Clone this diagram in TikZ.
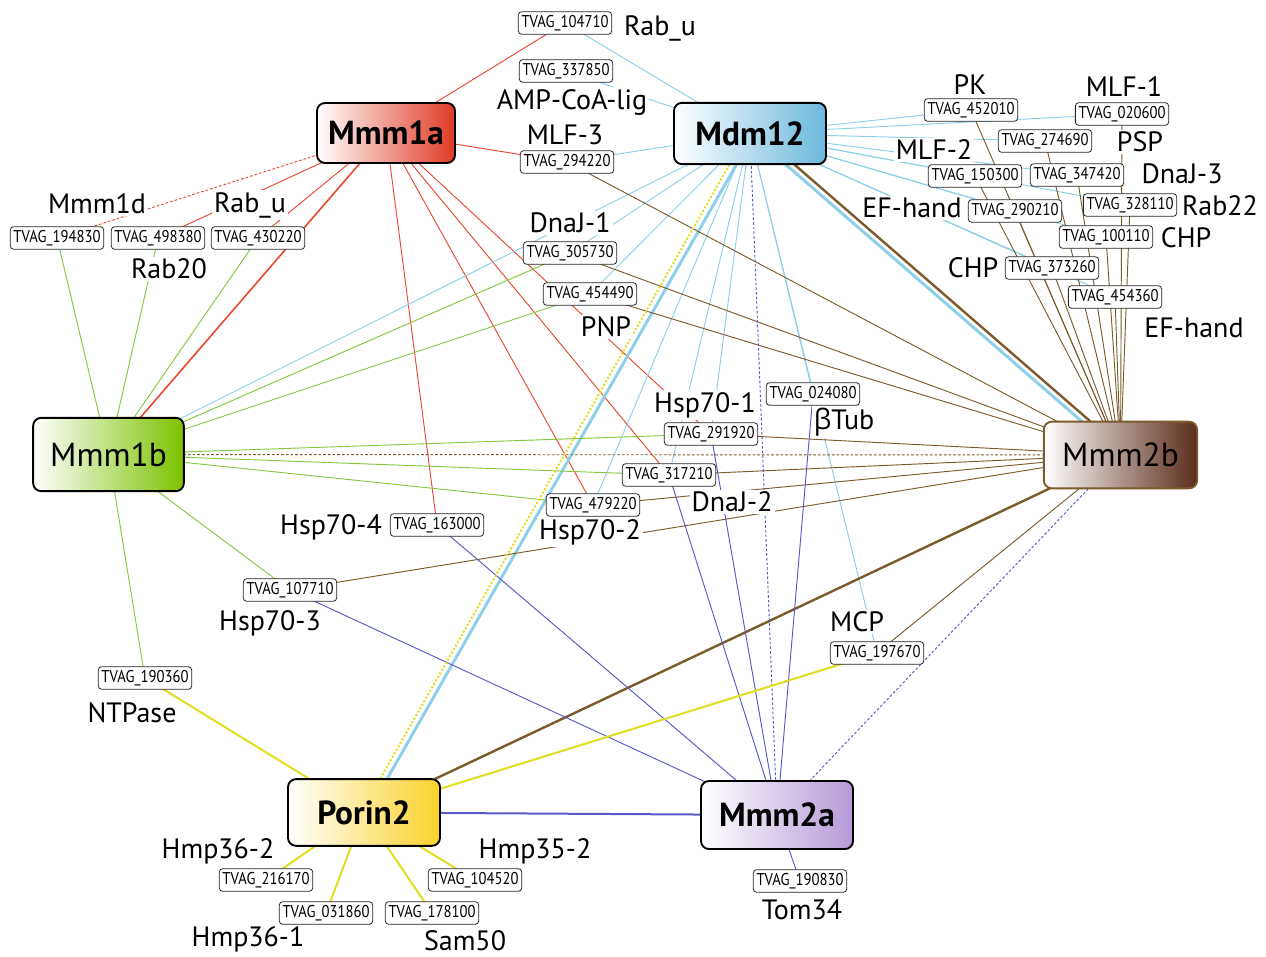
\documentclass[tikz,border=0pt]{standalone}
\usepackage{fontspec}
\setmainfont{PT Sans}
\newfontfamily\grk{Open Sans}
\newfontfamily\tvfont[FakeStretch=0.86]{PT Sans}
\pgfdeclarelayer{bg}
\pgfsetlayers{bg,main}
\definecolor{cR}{RGB}{234,72,46}
\definecolor{cB}{RGB}{142,207,232}
\definecolor{cG}{RGB}{134,198,64}
\definecolor{cN}{RGB}{123,90,44}
\definecolor{cP}{RGB}{88,88,200}
\definecolor{cY}{RGB}{224,222,30}
\definecolor{mR}{RGB}{224,58,36}
\definecolor{mB}{RGB}{107,184,221}
\definecolor{mG}{RGB}{124,194,0}
\definecolor{mN}{RGB}{91,44,26}
\definecolor{mY}{RGB}{250,210,42}
\definecolor{mP}{RGB}{181,154,216}
\tikzset{
  hub/.style={draw=black, line width=1.4pt, rounded corners=6pt, minimum width=114pt,
    minimum height=48pt, inner sep=0pt, font=\fontsize{25}{28}\selectfont\bfseries},
  tvag/.style={draw=black!85, line width=0.6pt, fill=white, rounded corners=2.5pt,
    minimum width=70pt, minimum height=17pt, inner sep=0pt, font=\tvfont\fontsize{12.8}{13}\selectfont},
  lab/.style={fill=white, inner sep=1.5pt, font=\fontsize{21}{23}\selectfont},
  lr/.style={draw=cR, line width=0.7pt},
  lb/.style={draw=cB, line width=0.7pt},
  lg/.style={draw=cG, line width=0.7pt},
  ln/.style={draw=cN, line width=0.7pt},
  lp/.style={draw=cP, line width=0.7pt},
  ly/.style={draw=cY, line width=1.5pt},
  dsh/.style={dash pattern=on 2pt off 1.5pt},
}
\begin{document}
\begin{tikzpicture}[x=0.75pt,y=-0.75pt]
\useasboundingbox (0,0) rectangle (1266,956);
% labels
\node[lab] (LRabuT) at (660,28) {Rab\_u};
\node[lab] (LAMP) at (572,102) {AMP-CoA-lig};
\node[lab] (LMLF3) at (565,135) {MLF-3};
\node[lab] (LPK) at (970,85) {PK};
\node[lab] (LMLF1) at (1124,87) {MLF-1};
\node[lab, minimum width=66pt] (LPSP) at (1140,142) {PSP};
\node[lab] (LMLF2) at (934,150) {MLF-2};
\node[lab] (LDnaJ3) at (1182,174) {DnaJ-3};
\node[lab] (LEF1) at (912,208) {EF-hand};
\node[lab] (LRab22) at (1220,206) {Rab22};
\node[lab] (LCHP1) at (1186,238) {CHP};
\node[lab] (LCHP2) at (973,268) {CHP};
\node[lab] (LEF2) at (1194,328) {EF-hand};
\node[lab] (LMmm1d) at (97,204) {Mmm1d};
\node[lab] (LRabuL) at (250,205) {Rab\_u};
\node[lab] (LRab20) at (169,269) {Rab20};
\node[lab] (LDnaJ1) at (570,223) {DnaJ-1};
\node[lab] (LPNP) at (606,327) {PNP};
\node[lab] (LHsp1) at (705,405) {Hsp70-1};
\node[lab] (LTub) at (844,422) {{\grk β}Tub};
\node[lab] (LDnaJ2) at (732,502) {DnaJ-2};
\node[lab] (LHsp2) at (590,532) {Hsp70-2};
\node[lab] (LHsp4) at (331,527) {Hsp70-4};
\node[lab] (LHsp3) at (270,623) {Hsp70-3};
\node[lab] (LNTP) at (132,713) {NTPase};
\node[lab] (LMCP) at (857,622) {MCP};
\node[lab] (LH362) at (218,851) {Hmp36-2};
\node[lab] (LH361) at (248,939) {Hmp36-1};
\node[lab] (LSam) at (465,941) {Sam50};
\node[lab] (LH352) at (535,851) {Hmp35-2};
\node[lab] (LTom) at (802,910) {Tom34};
% TVAG boxes
\node[tvag] (t104710) at (565,23) {TVAG\_104710};
\node[tvag] (t337850) at (566,71) {TVAG\_337850};
\node[tvag] (t294220) at (567,162) {TVAG\_294220};
\node[tvag] (t452010) at (971,110) {TVAG\_452010};
\node[tvag] (t020600) at (1122,114) {TVAG\_020600};
\node[tvag] (t274690) at (1045,141) {TVAG\_274690};
\node[tvag] (t150300) at (975,176) {TVAG\_150300};
\node[tvag] (t347420) at (1077,175) {TVAG\_347420};
\node[tvag] (t290210) at (1015,211) {TVAG\_290210};
\node[tvag] (t328110) at (1130,205) {TVAG\_328110};
\node[tvag] (t100110) at (1106,237) {TVAG\_100110};
\node[tvag] (t373260) at (1052,268) {TVAG\_373260};
\node[tvag] (t454360) at (1115,297) {TVAG\_454360};
\node[tvag] (t194830) at (57,238) {TVAG\_194830};
\node[tvag] (t498380) at (158,238) {TVAG\_498380};
\node[tvag] (t430220) at (258,238) {TVAG\_430220};
\node[tvag] (t305730) at (570,253) {TVAG\_305730};
\node[tvag] (t454490) at (590,294) {TVAG\_454490};
\node[tvag] (t291920) at (711,434) {TVAG\_291920};
\node[tvag] (t317210) at (669,475) {TVAG\_317210};
\node[tvag] (t479220) at (593,505) {TVAG\_479220};
\node[tvag] (t024080) at (813,394) {TVAG\_024080};
\node[tvag] (t163000) at (437,525) {TVAG\_163000};
\node[tvag] (t107710) at (290,590) {TVAG\_107710};
\node[tvag] (t190360) at (145,678) {TVAG\_190360};
\node[tvag] (t197670) at (877,653) {TVAG\_197670};
\node[tvag] (t216170) at (266,880) {TVAG\_216170};
\node[tvag] (t031860) at (326,913) {TVAG\_031860};
\node[tvag] (t178100) at (432,913) {TVAG\_178100};
\node[tvag] (t104520) at (475,880) {TVAG\_104520};
\node[tvag] (t190830) at (800,881) {TVAG\_190830};
% hubs
\node[hub, left color=white, right color=mR, minimum width=103.5pt, minimum height=45pt] (Mmm1a) at (386,133) {Mmm1a};
\node[hub, left color=white, right color=mB, minimum width=114pt, minimum height=46pt] (Mdm12) at (750,133.5) {Mdm12};
\node[hub, left color=white, right color=mG, minimum width=113pt, minimum height=55pt, font=\fontsize{25}{28}\selectfont] (Mmm1b) at (108.5,454.5) {Mmm1b};
\node[hub, draw=cN, left color=white, right color=mN, minimum width=115pt, minimum height=50pt, font=\fontsize{25}{28}\selectfont] (Mmm2b) at (1120.5,455) {Mmm2b};
\node[hub, left color=white, right color=mY, minimum width=114pt, minimum height=50pt] (Porin2) at (364,812.5) {Porin2};
\node[hub, left color=white, right color=mP, minimum width=114pt, minimum height=51pt] (Mmm2a) at (777,815) {Mmm2a};
% edges
\begin{pgfonlayer}{bg}
% red (Mmm1a)
\draw[lr] (Mmm1a.center) -- (t104710.center);
\draw[lr] (Mmm1a.center) -- (t294220.center);
\draw[lr, dsh] (Mmm1a.center) -- (t194830.center);
\draw[lr] (Mmm1a.center) -- (t498380.center);
\draw[lr] (Mmm1a.center) -- (t430220.center);
\draw[lr, line width=1.2pt] (Mmm1a.center) -- (Mmm1b.center);
\draw[lr] (Mmm1a.center) -- (t163000.center);
\draw[lr] (Mmm1a.center) -- (t479220.center);
\draw[lr] (Mmm1a.center) -- (t317210.center);
\draw[lr] (Mmm1a.center) -- (t291920.center);
% light blue (Mdm12)
\foreach \t in {t104710,t337850,t294220,t452010,t020600,t274690,t150300,t347420,t290210,t328110,t100110,t373260,t454360,t305730,t454490,t291920,t317210,t479220,t024080,t197670}
  \draw[lb] (Mdm12.center) -- (\t.center);
\draw[lb] (Mdm12.center) -- (Mmm1b.center);
\draw[lb, line width=2.2pt] ([shift={(4,0)}]Mdm12.center) -- ([shift={(4,0)}]Porin2.center);
\draw[lb, line width=2.2pt] (Mdm12.center) -- (Mmm2b.center);
% green (Mmm1b)
\foreach \t in {t194830,t498380,t430220,t305730,t454490,t291920,t317210,t479220,t107710,t190360}
  \draw[lg] (Mmm1b.center) -- (\t.center);
% brown (Mmm2b)
\foreach \t in {t294220,t305730,t454490,t452010,t020600,t274690,t150300,t347420,t290210,t328110,t100110,t373260,t454360,t291920,t317210,t479220,t107710,t197670}
  \draw[ln] (Mmm2b.center) -- (\t.center);
\draw[ln, line width=1.8pt] ([shift={(4,-4)}]Mdm12.center) -- ([shift={(4,-4)}]Mmm2b.center);
\draw[ln, line width=1.8pt] (Porin2.center) -- (Mmm2b.center);
\draw[ln, dsh] (Mmm1b.center) -- (Mmm2b.center);
% purple (Mmm2a)
\draw[lp, line width=1.5pt] (Porin2.center) -- (Mmm2a.center);
\draw[lp, dsh] (Mdm12.center) -- (Mmm2a.center);
\draw[lp, dsh] (Mmm2b.center) -- (Mmm2a.center);
\foreach \t in {t190830,t024080,t317210,t291920,t163000,t107710}
  \draw[lp] (Mmm2a.center) -- (\t.center);
% yellow (Porin2)
\draw[ly, dash pattern=on 1.5pt off 1.5pt] ([shift={(-3,0)}]Mdm12.center) -- ([shift={(-3,0)}]Porin2.center);
\foreach \t in {t190360,t197670,t216170,t031860,t178100,t104520}
  \draw[ly] (Porin2.center) -- (\t.center);
\end{pgfonlayer}
\end{tikzpicture}
\end{document}
